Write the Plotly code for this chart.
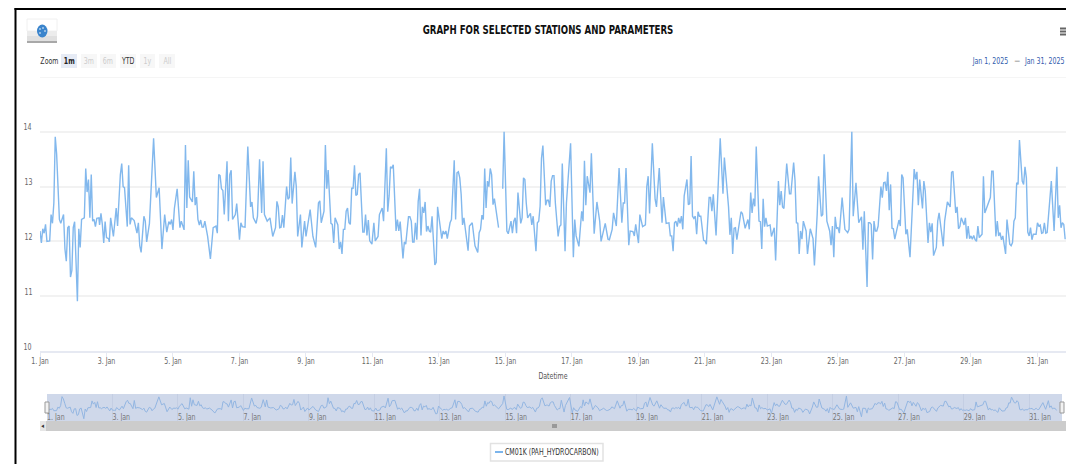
import datetime as dt
import plotly.graph_objects as go

W, H = 1066, 464
FONT = "DejaVu Sans Condensed, Liberation Sans, sans-serif"

START = dt.datetime(2025, 1, 1)
SERIES_NAME = "CM01K (PAH_HYDROCARBON)"
TITLE = "GRAPH FOR SELECTED STATIONS AND PARAMETERS"
Y_TICKS = [10, 11, 12, 13, 14]

# hour offset from 1 Jan 00:00; None = gap in the line
HOURS_A = [0,1,2,3,4,5,7,8,9,10,11,12,13,14,15,17,18,19,20,21,22,23,24,25,27,28,29,30,32,33,34,35,36,37,38,39,40,41,42.5,43,44,45,46,47,48,49.5,50,51,53,55,56,58,59,60,61,63,64,65,66,68,70,71,72,73,75,76,77,78,79,82,84,86,88,90,91.5,93,94,95,96,97,99,101,102,104,105,106,107,108,110,111,112,113,114,115,116,117,118,119,121,123,125,127,128,129,130,131,132,133,135,136,137,138,139,141,142,143,144,145,146,148,150,152,153,154,156,157,158.5,160,161,162,164,166,168,170,171,172,173,174,175,176,178,179,180,181,182,184,185,186,188,189,191,192,195,197,199,201,202,203,205,206,207,208,210,211,212,213,215,216,217,218,219,220,221,222,223,224,225,226,227,228,229,230,231,233,234,235,236,237,238]
VALUES_A = [12.19,11.97,12.23,12.15,12.31,12.0,12.01,12.49,12.33,12.7,13.91,13.6,13.0,12.4,12.33,12.49,11.86,11.64,12.25,12.28,11.35,11.47,12.25,12.36,10.91,12.23,11.89,12.4,12.43,13.33,12.9,13.13,12.43,13.22,12.37,12.4,12.27,12.42,12.43,12.3,12.51,12.31,11.97,12.36,12.07,12.05,11.99,12.43,12.09,12.61,12.28,13.22,13.42,13.0,12.98,12.27,13.39,12.31,12.43,12.38,12.15,12.34,11.92,11.8,12.46,12.37,11.99,12.22,12.33,13.88,12.8,12.98,11.86,12.49,12.17,12.36,12.31,12.4,12.21,12.6,12.96,12.25,12.37,12.21,13.76,12.61,13.48,12.81,12.72,13.28,12.66,12.81,12.4,12.3,12.39,12.26,12.26,12.37,12.09,11.68,12.25,12.28,12.15,13.22,13.2,12.96,12.93,12.49,13.46,12.37,13.22,13.3,12.4,12.49,12.69,12.37,12.03,12.34,12.27,12.26,13.73,12.63,12.72,12.43,12.33,12.46,13.5,12.52,13.46,12.49,12.37,12.43,12.09,12.25,12.73,12.63,12.25,12.26,12.48,12.25,13.0,12.77,12.8,13.53,12.69,13.27,13.0,12.09,12.49,11.89,12.37,12.09,12.58,12.09,11.89,12.7,12.74,12.34,12.55,13.76,12.96,13.3,12.33,12.31,11.97,12.43,12.3,11.86,11.99,11.77,12.22,12.22,12.55,12.61,12.34,12.31,12.98,12.96,13.39,12.84,12.86,13.22,13.25,12.17,12.17,12.49,12.11,12.39,12.01]

HOURS_B = [239.6,241,242,244,245,247,248,250,251,252,253,254,255,257,258,259,260,262,263,264,266,267,268,269,270,271,272,273,274,275,276,277,278,279,280,281,282,283,285,286,287,289,290,291,292,293,294,296,297,299,300,301,302,303,304,305,306,309,310,312,313,314,316,317,318,319,320,321,322,323,324,325,326,327,328,329,331,332,334,335,337,338,340,341,342,343,344,345,347,348,349,350,351,352,354,355,356,358,359,360,361,362,363,365,366,367,368,369,370,371,372,373,374,375,376,377,379,380,382,383,385,386,387,389,391,392,393,394,395,397,398,400,402,404,405,408,410,411,413,414,416,418,420,421,422,423,425,426,428,429,430,432,433,435,437,438,439,440,442,444,445,447,449,450,452,454,455,456,457,458,459,460,461,462,463,464,465,467,468,469,470,471,472,473,474,475,476,477,479,480,481,483]
VALUES_B = [11.95,12.34,12.01,12.09,12.49,12.61,12.37,13.7,12.54,12.83,13.36,13.34,13.4,12.19,12.4,12.19,12.36,11.69,11.99,11.95,12.45,12.45,12.37,11.99,11.99,12.34,12.03,12.73,12.96,12.11,12.63,12.52,12.72,12.18,12.28,12.19,12.17,12.46,11.57,11.62,12.63,12.22,12.05,12.19,12.13,12.19,12.05,12.34,12.4,13.48,12.4,13.25,13.27,13.16,12.86,12.3,12.43,11.83,12.28,12.34,12.1,11.92,11.8,12.16,12.22,12.48,12.4,13.33,12.61,13.1,13.0,13.33,13.22,12.67,12.78,12.58,12.25,None,12.96,14.0,12.19,12.14,12.37,12.15,12.37,12.43,12.15,12.89,12.33,12.43,13.16,13.13,12.7,12.43,12.51,12.3,12.46,11.82,12.34,12.37,12.64,13.52,13.75,12.66,12.75,12.75,12.63,13.1,13.2,13.2,12.7,12.33,12.09,12.27,12.3,13.42,11.82,12.7,13.52,13.79,11.71,12.4,12.1,11.91,12.55,12.37,13.47,12.66,13.19,12.89,13.61,12.14,12.72,12.37,12.0,12.33,12.04,12.03,12.22,12.52,12.28,13.34,12.34,12.7,12.7,13.34,11.93,12.19,12.18,12.1,12.31,11.97,12.49,12.27,12.3,13.0,13.19,12.51,13.79,12.77,12.63,13.34,12.34,12.81,12.33,12.34,12.1,12.1,11.82,12.34,12.37,12.27,12.43,12.33,12.46,12.22,12.83,13.13,12.67,12.69,13.56,12.46,12.42,12.46,12.13,12.54,12.46,12.46,12.02,12.01,11.95,12.8]

HOURS_C = [484,485,486,488,491,493,494,495,497,498,499,500,501,502,503,506,507,509,511,512,513,514,515,516,517,519,520,521,522,523,524,525,527,528,530,531,533,534,535,536,537,539,541,542,544,545,546,547,548,549,550,551,553,554,556,558,559,561,562,564,565,566,568,570,571,572,573,574,575,576,577,579,581,583,584,586,587,589,591,593,594,595,597,598,599,600,601,602,603,604,605,607,608,609,610,611,612,613,614,615,616,617,619,620,621,622,623,625,626,628,631,632,633,634,635,637,638,639,641,642,643,644,645,647,648,649,652,653,655,657,658,659,661,662,663,664,665,667,668,669,670,671,672,673,674,675,676,677,678,680,681,682,686,687,688,690,691,692,693,694,695,697,698,700,701,702,703,704,705,706,707,709,710,711,712,713,714,715,716,717,719,720,721,722,723,724,725,726,727,730,732,734,735,736,737,738,739,740]
VALUES_C = [12.8,12.55,12.86,12.11,13.88,12.87,13.53,13.22,12.63,12.12,12.43,11.77,12.24,12.25,12.03,12.54,12.51,12.24,12.4,12.22,12.89,12.52,12.78,12.64,13.73,12.37,12.36,11.86,12.78,12.27,12.43,12.28,12.3,12.09,12.25,11.65,13.1,12.66,12.92,12.63,12.6,13.42,12.87,12.87,13.44,13.11,12.34,12.33,11.77,12.19,12.04,12.37,12.19,11.77,12.23,12.05,11.56,12.49,13.19,12.46,12.49,13.59,12.37,12.19,11.93,12.28,11.71,12.45,12.24,12.25,12.15,12.8,12.22,12.16,12.22,14.0,12.46,13.07,12.34,12.45,11.85,12.55,11.17,12.34,12.34,12.31,11.67,12.37,12.19,12.19,12.28,13.0,12.8,13.07,13.08,12.92,13.27,12.57,13.04,12.24,12.23,12.04,12.28,12.39,12.28,13.22,13.16,12.13,12.22,11.71,13.32,13.13,13.27,12.66,13.13,12.6,13.1,12.92,11.97,12.34,12.17,12.33,11.74,11.89,12.37,12.52,11.91,12.37,12.72,12.63,13.26,13.28,12.52,12.63,12.23,12.27,12.43,12.3,12.43,12.05,12.28,12.05,12.1,12.04,12.11,12.03,12.0,12.28,12.07,12.13,13.19,12.52,12.8,13.28,13.28,12.09,12.37,12.1,12.16,12.03,12.1,11.77,12.4,11.95,11.92,11.98,12.37,12.43,13.07,13.04,13.85,13.1,13.04,13.36,13.16,12.17,12.1,12.25,12.03,12.13,12.13,12.34,12.28,12.3,12.15,12.16,12.34,12.15,12.16,13.1,12.19,13.36,12.43,12.66,12.25,12.34,12.31,12.04]

hours = HOURS_A + HOURS_B + HOURS_C
values = VALUES_A + VALUES_B + VALUES_C
times = [START + dt.timedelta(hours=h) for h in hours]


def px(x):
    return x / W


def py(y):
    return 1 - y / H


fig = go.Figure()
fig.add_trace(go.Scatter(x=times, y=values, mode="lines", name=SERIES_NAME,
                         line=dict(color="#82b8ed", width=1.4), connectgaps=False,
                         xaxis="x", yaxis="y", showlegend=False))
fig.add_trace(go.Scatter(x=times, y=values, mode="lines", name=SERIES_NAME,
                         line=dict(color="#93b6e2", width=1), connectgaps=True,
                         xaxis="x2", yaxis="y2", showlegend=False, hoverinfo="skip"))

shapes = []


def rect(x0, y0, x1, y1, fill, line=None, width=1):
    shapes.append(dict(type="rect", xref="paper", yref="paper",
                       x0=px(x0), x1=px(x1), y0=py(y0), y1=py(y1),
                       fillcolor=fill, line=dict(color=line or fill, width=width if line else 0)))


# page frame
rect(14.5, 8, W, 10, "#000000")
rect(14.5, 8, 16.5, H, "#000000")
# palette button
rect(27, 19, 57, 31, "#ffffff", "#f0f0f0")
rect(27, 31, 57, 36, "#ececec")
rect(27, 36, 57, 41, "#e0e0e0")
rect(27, 41, 57, 43, "#a8a8a8")
shapes.append(dict(type="circle", xref="paper", yref="paper", x0=px(37), x1=px(47.5), y0=py(24.5), y1=py(37.5),
                   fillcolor="#3a84cc", line=dict(width=0)))
for cx, cy in [(40, 29), (43, 28), (45, 31), (40, 33)]:
    shapes.append(dict(type="circle", xref="paper", yref="paper", x0=px(cx - .8), x1=px(cx + .8),
                       y0=py(cy - .8), y1=py(cy + .8), fillcolor="#ffffff", line=dict(width=0)))
# menu icon
for y in (27.5, 30.5, 33.5):
    rect(1060, y, W, y + 2, "#666666")
# range buttons
BUTTONS = [("1m", 61, 77, "#e6ebf5", "#222222", True), ("3m", 81, 97, "#f7f7f7", "#cccccc", False),
           ("6m", 100, 116, "#f7f7f7", "#cccccc", False), ("YTD", 120, 136, "#f7f7f7", "#333333", False),
           ("1y", 140, 155, "#f7f7f7", "#cccccc", False), ("All", 159, 175, "#f7f7f7", "#cccccc", False)]
annotations = []


def label(x, y, text, size=8, color="#666666", bold=False):
    annotations.append(dict(xref="paper", yref="paper", x=px(x), y=py(y), text=text,
                            showarrow=False, xanchor="center", yanchor="middle",
                            font=dict(family=FONT, size=size, color=color, weight=700 if bold else 400)))


for text, x0, x1, fill, color, bold in BUTTONS:
    rect(x0, 54, x1, 68, fill)
    label((x0 + x1) / 2, 61, text, 8, color, bold=bold)
label(49, 61, "Zoom", 8, "#333333")
label(990.5, 61, "Jan 1, 2025", 8, "#335cad")
label(1017, 61, "—", 7, "#333333")
label(1043.5, 61, "Jan 31, 2025", 8, "#335cad")
# main-axis y labels sit just above their grid lines
for v in Y_TICKS:
    annotations.append(dict(xref="paper", yref="y", x=px(28), y=v, yshift=4, text=str(v), showarrow=False,
                            xanchor="center", yanchor="middle", font=dict(family=FONT, size=8, color="#666666")))
# top grid line of the main axis
shapes.append(dict(type="line", xref="x domain", yref="y", x0=0, x1=1, y0=15, y1=15,
                   line=dict(color="#f2f2f2", width=1.5)))
# navigator background
shapes.append(dict(type="rect", xref="x2 domain", yref="y2 domain", x0=0, x1=1, y0=0, y1=1, layer="below",
                   fillcolor="#cfd8ea", line=dict(width=0)))
# navigator handles + scrollbar
rect(45, 402, 49, 413, "#f2f2f2", "#999999")
rect(1060, 402, 1064, 413, "#f2f2f2", "#999999")
rect(40, 421, W, 431, "#cccccc")
rect(40, 421, 46, 431, "#e6e6e6")
rect(552, 424, 557, 428, "#999999")
label(43, 426, "◂", 7, "#333333")
# legend box
rect(490.5, 443.5, 603, 461, "#ffffff", "#e2e2e2", 1.5)
shapes.append(dict(type="line", xref="paper", yref="paper", x0=px(495), x1=px(503), y0=py(452), y1=py(452),
                   line=dict(color="#7cb5ec", width=2)))
label(551.5, 452, SERIES_NAME, 8, "#333333")

fig.update_layout(
    width=W, height=H, margin=dict(l=0, r=0, t=0, b=0, autoexpand=False),
    paper_bgcolor="#ffffff", plot_bgcolor="#ffffff",
    font=dict(family=FONT, size=8, color="#666666"),
    title=dict(text=TITLE, x=px(548), xanchor="center", y=py(30), yanchor="middle",
               font=dict(family=FONT, size=12, color="#111111", weight=700)),
    xaxis=dict(domain=[px(40), 1], anchor="y", type="date",
               range=[START, START + dt.timedelta(hours=740.6)],
               dtick=2 * 86400000, tick0="2025-01-01", tickformat="%-d. %b", ticklabelmode="instant",
               showgrid=False, showline=True, linecolor="#e6e9f2", linewidth=2,
               ticks="outside", ticklen=4, tickcolor="#e6e9f2", ticklabelstandoff=-3,
               tickfont=dict(size=8, color="#666666"),
               title=dict(text="Datetime", standoff=9, font=dict(size=8, color="#555555"))),
    yaxis=dict(domain=[py(351), py(77)], anchor="x", range=[10, 15], tickvals=Y_TICKS + [15],
               showticklabels=False, showgrid=True, gridcolor="#f2f2f2", gridwidth=1.5, zeroline=False),
    xaxis2=dict(domain=[px(47), px(1062)], anchor="free", position=py(428), type="date",
                range=[START, START + dt.timedelta(hours=744)],
                dtick=2 * 86400000, tick0="2025-01-01", tickformat="%-d. %b",
                ticklabelposition="inside right", showgrid=True, gridcolor="#c4cee3",
                tickfont=dict(size=8, color="#777777"), showline=False),
    yaxis2=dict(domain=[py(421), py(394)], anchor="x2", range=[10.6, 14.27], visible=False),
    shapes=shapes, annotations=annotations, showlegend=False,
)

# The reference's lettering is horizontally squeezed: narrow every text around its anchor.
SQUEEZE = """
document.body.style.margin='0';
document.documentElement.style.overflow='hidden';
document.querySelectorAll('svg text').forEach(function (t) {
  var len = t.getComputedTextLength();
  if (!len) return;
  var f = t.classList.contains('gtitle') ? 0.8 : 0.87;
  t.setAttribute('textLength', (len * f).toFixed(2));
  t.setAttribute('lengthAdjust', 'spacingAndGlyphs');
});
"""
fig.write_html("out.html", config=dict(displayModeBar=False), post_script=SQUEEZE)
